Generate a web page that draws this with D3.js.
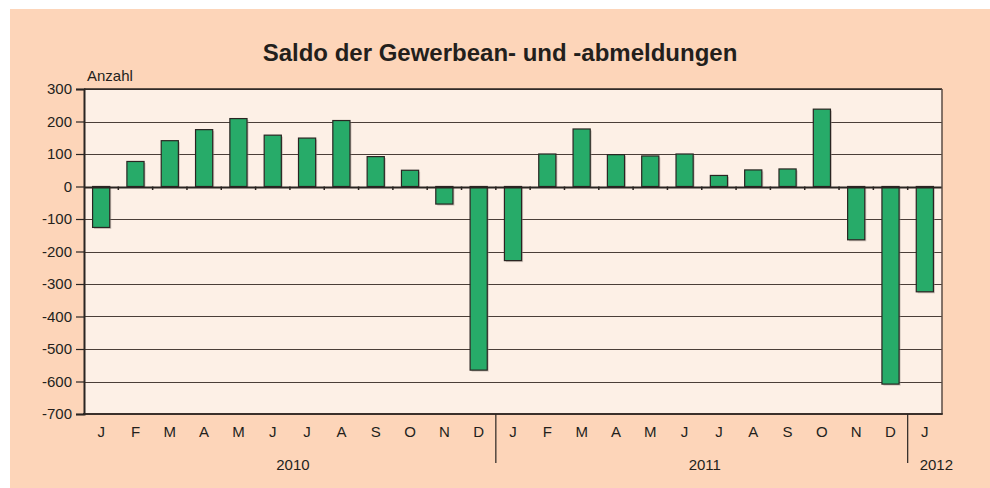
<!DOCTYPE html>
<html>
<head>
<meta charset="utf-8">
<script src="https://cdn.jsdelivr.net/npm/d3@7"></script>
<style>
  body { margin: 0; background: #fff; }
  svg text { font-family: Arial, "Liberation Sans", sans-serif; fill: #231f1c; }
</style>
</head>
<body>
<div id="chart"></div>
<script>
    const months = ["J","F","M","A","M","J","J","A","S","O","N","D",
                    "J","F","M","A","M","J","J","A","S","O","N","D","J"];
    const years = ["2010", "2011", "2012"];
    const yearLength = [12, 12, 1];
    const saldo = [-126, 77, 141, 175, 209, 158, 149, 203, 92, 50, -54, -565,
                   -228, 100, 177, 98, 94, 100, 34, 51, 54, 238, -164, -608, -324];
    const yTicks = [300, 200, 100, 0, -100, -200, -300, -400, -500, -600, -700];

    const width = 990, height = 488;
    const margin = {left: 84, right: 48, top: 89, bottom: 74};

    const svg = d3.select("#chart").append("svg")
        .attr("width", width)
        .attr("height", height);

    svg.append("rect")
        .attr("x", 10).attr("y", 9)
        .attr("width", width - 10).attr("height", height - 9)
        .attr("fill", "#fdd5b9");

    const x = d3.scaleBand()
        .domain(d3.range(months.length))
        .range([margin.left, width - margin.right])
        .paddingInner(0.5)
        .paddingOuter(0.25);

    const y = d3.scaleLinear()
        .domain([-700, 300])
        .range([height - margin.bottom, margin.top]);

    const x0 = margin.left, x1 = width - margin.right;
    const step = x.step();

    svg.append("rect")
        .attr("x", x0).attr("y", y(300))
        .attr("width", x1 - x0).attr("height", y(-700) - y(300))
        .attr("fill", "#fdf0e6");

    // gridlines
    svg.append("g").selectAll("line")
        .data(yTicks.filter(d => d !== 0 && d !== -700))
        .enter().append("line")
        .attr("x1", x0).attr("x2", x1)
        .attr("y1", d => Math.round(y(d)) + 0.5)
        .attr("y2", d => Math.round(y(d)) + 0.5)
        .attr("stroke", "#4a3e38")
        .attr("stroke-width", 1.2);

    // bar shadows
    svg.append("g").selectAll("rect")
        .data(saldo)
        .enter().append("rect")
        .attr("x", (d, i) => x(i) + 1.5)
        .attr("y", d => Math.min(y(d), y(0)) + 1.5)
        .attr("width", x.bandwidth())
        .attr("height", d => Math.abs(y(d) - y(0)))
        .attr("fill", "#9a8c84")
        .attr("opacity", 0.45);

    svg.append("g").selectAll("rect")
        .data(saldo)
        .enter().append("rect")
        .attr("x", (d, i) => x(i))
        .attr("y", d => Math.min(y(d), y(0)))
        .attr("width", x.bandwidth())
        .attr("height", d => Math.abs(y(d) - y(0)))
        .attr("fill", "#27ab69")
        .attr("stroke", "#2a2522")
        .attr("stroke-width", 1.2);

    // zero line with small ticks at band boundaries
    const zy = Math.round(y(0)) + 0.5;
    svg.append("line")
        .attr("x1", x0).attr("x2", x1)
        .attr("y1", zy).attr("y2", zy)
        .attr("stroke", "#2a2522").attr("stroke-width", 1.8);
    svg.append("g").selectAll("line")
        .data(d3.range(1, months.length))
        .enter().append("line")
        .attr("x1", i => x0 + i * step).attr("x2", i => x0 + i * step)
        .attr("y1", zy - 1).attr("y2", zy + 2.5)
        .attr("stroke", "#2a2522").attr("stroke-width", 1.5);

    // frame
    svg.append("line").attr("x1", x0).attr("x2", x1)
        .attr("y1", y(300)).attr("y2", y(300))
        .attr("stroke", "#2a2522").attr("stroke-width", 1.5);
    svg.append("line").attr("x1", x1).attr("x2", x1)
        .attr("y1", y(300)).attr("y2", y(-700))
        .attr("stroke", "#5a4d46").attr("stroke-width", 1.5);
    svg.append("line").attr("x1", x0 - 1).attr("x2", x1 + 0.75)
        .attr("y1", y(-700)).attr("y2", y(-700))
        .attr("stroke", "#3a302b").attr("stroke-width", 2);

    // y axis
    const yAxis = svg.append("g")
        .attr("transform", `translate(${x0},0)`)
        .call(d3.axisLeft(y).tickValues(yTicks).tickSize(8).tickPadding(4)
            .tickFormat(d => String(d)));
    yAxis.select(".domain").attr("stroke", "#2a2522").attr("stroke-width", 2);
    yAxis.selectAll(".tick line").attr("stroke", "#2a2522").attr("stroke-width", 1.2);
    yAxis.selectAll("text")
        .style("font-size", "15px")
        .style("font-family", "Arial, 'Liberation Sans', sans-serif")
        .attr("fill", "#231f1c");

    // month labels
    svg.append("g").selectAll("text")
        .data(months)
        .enter().append("text")
        .attr("x", (d, i) => x(i) + x.bandwidth() / 2)
        .attr("y", y(-700) + 23)
        .attr("text-anchor", "middle")
        .style("font-size", "15px")
        .text(d => d);

    // year separators and labels
    let start = 0;
    years.forEach((yr, k) => {
        const a = x0 + start * step;
        const b = a + yearLength[k] * step;
        const last = k === years.length - 1;
        svg.append("text")
            .attr("x", last ? a + 12 : (a + b) / 2 + 3)
            .attr("y", y(-700) + 56)
            .attr("text-anchor", last ? "start" : "middle")
            .style("font-size", "15px")
            .text(yr);
        if (!last) {
            svg.append("line")
                .attr("x1", b).attr("x2", b)
                .attr("y1", y(-700)).attr("y2", y(-700) + 49)
                .attr("stroke", "#2a2522").attr("stroke-width", 1.2);
        }
        start += yearLength[k];
    });

    svg.append("text")
        .attr("x", 500).attr("y", 61)
        .attr("text-anchor", "middle")
        .style("font-size", "24px")
        .style("font-weight", "bold")
        .text("Saldo der Gewerbean- und -abmeldungen");

    svg.append("text")
        .attr("x", 87).attr("y", 81)
        .style("font-size", "15px")
        .text("Anzahl");
</script>
</body>
</html>
